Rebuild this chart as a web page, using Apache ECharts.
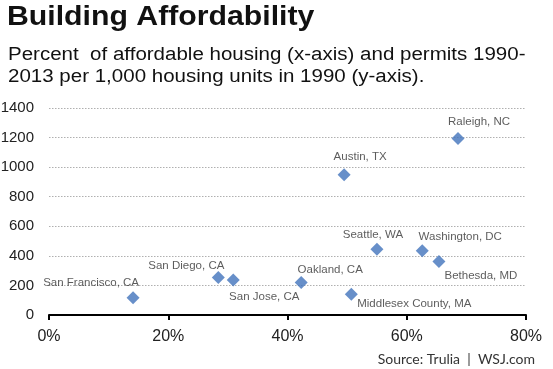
<!DOCTYPE html>
<html>
<head>
<meta charset="utf-8">
<script src="https://cdn.jsdelivr.net/npm/echarts@6/dist/echarts.min.js"></script>
<style>
html,body{margin:0;padding:0;background:#fff;}
#c{width:553px;height:369px;}
</style>
</head>
<body>
<div id="c"></div>
<script>
const cities = ["San Francisco, CA","San Diego, CA","San Jose, CA","Oakland, CA","Middlesex County, MA","Austin, TX","Seattle, WA","Washington, DC","Bethesda, MD","Raleigh, NC"];
const affordablePct = [14.1, 28.4, 30.9, 42.3, 50.7, 49.5, 55.0, 62.6, 65.4, 68.6];
const permitsPer1000 = [117, 253, 237, 219, 140, 949, 445, 434, 361, 1193];
const xTicks = [0, 20, 40, 60, 80];
const yTicks = [0, 200, 400, 600, 800, 1000, 1200, 1400];
const titleText = 'Building Affordability';
const subtitleLines = ['Percent  of affordable housing (x-axis) and permits 1990-', '2013 per 1,000 housing units in 1990 (y-axis).'];
const sourceText = 'Source: Trulia  |  WSJ.com';

// label placement (pixel offsets from each marker), kept separate from data
const labelOffsets = [[-42,-15],[-32,-12],[31,17],[29,-13],[63,10],[16,-18],[-4,-14],[38,-14],[42,14],[21,-17]];

const FONT = '"Liberation Sans", Arial, sans-serif';
const chart = echarts.init(document.getElementById('c'), null, {renderer:'canvas'});

const data = cities.map((name, i) => ({
  name: name,
  value: [affordablePct[i], permitsPer1000[i]],
  label: {offset: labelOffsets[i]}
}));

chart.setOption({
  animation: false,
  backgroundColor: '#fff',
  graphic: [
    {type: 'text', x: 7, y: 17, scaleX: 1.08,
     style: {text: titleText, font: 'bold 28px ' + FONT, fill: '#111', verticalAlign: 'middle'}},
    {type: 'text', x: 8, y: 54.7, scaleX: 1.14,
     style: {text: subtitleLines[0], font: '18px ' + FONT, fill: '#111', verticalAlign: 'middle'}},
    {type: 'text', x: 8, y: 77.4, scaleX: 1.14,
     style: {text: subtitleLines[1], font: '18px ' + FONT, fill: '#111', verticalAlign: 'middle'}},
    {type: 'text', x: 535, y: 359,
     style: {text: sourceText, font: '14px Lato, "Open Sans", sans-serif', fill: '#333', align: 'right', verticalAlign: 'middle'}}
  ],
  grid: {left: 49, right: 27, top: 108, bottom: 54, containLabel: false, outerBoundsMode: 'none'},
  xAxis: {
    type: 'value', min: xTicks[0], max: xTicks[xTicks.length-1], interval: 20,
    axisLine: {show: true, lineStyle: {color: '#000', width: 2}},
    axisTick: {show: true, length: 5, lineStyle: {color: '#000', width: 2}},
    splitLine: {show: false},
    axisLabel: {formatter: '{value}%', fontFamily: FONT, fontSize: 16, color: '#222', margin: 14}
  },
  yAxis: {
    type: 'value', min: yTicks[0], max: yTicks[yTicks.length-1], interval: 200,
    axisLine: {show: false},
    axisTick: {show: false},
    splitLine: {show: true, lineStyle: {type: [1.5, 1.5], color: '#b0b0b0', width: 1.2}},
    axisLabel: {formatter: function (v) { return String(v); }, fontFamily: FONT, fontSize: 15, color: '#222', margin: 15}
  },
  series: [{
    type: 'scatter',
    symbol: 'diamond',
    symbolSize: 13,
    itemStyle: {color: '#4173bb'},
    label: {
      show: true, position: 'inside', formatter: '{b}',
      fontFamily: FONT, fontSize: 11.5, color: '#333',
      align: 'center', verticalAlign: 'middle'
    },
    data: data
  }]
});
</script>
</body>
</html>
